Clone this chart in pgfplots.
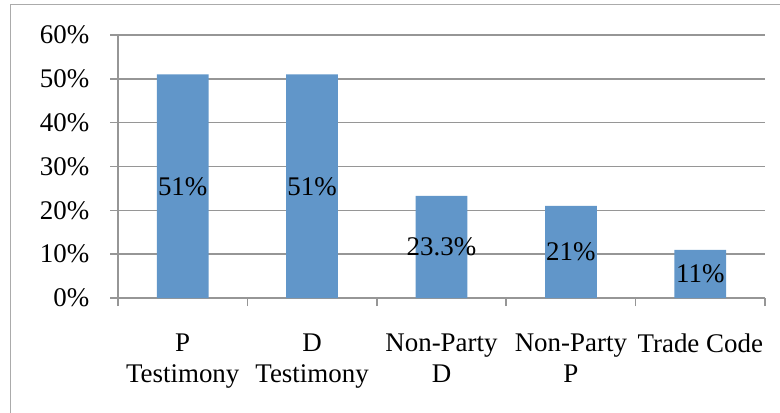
\documentclass[border=0pt]{standalone}
\usepackage{pgfplots}
\pgfplotsset{compat=1.18}
\usepackage{fontspec}
\setmainfont{Liberation Serif}
\definecolor{barblue}{RGB}{97,150,201}
\definecolor{gridgray}{RGB}{150,150,150}
\newcommand{\chartfont}{\fontsize{20.2}{23.25}\selectfont}
\begin{document}
\begin{tikzpicture}
\useasboundingbox (0,0) rectangle (585pt,309pt);
\draw[gridgray!80, line width=1.1pt] (7.9pt,-10pt) -- (7.9pt,305.6pt) -- (600pt,305.6pt);
\begin{axis}[
  at={(88.5pt,85.5pt)}, anchor=south west,
  scale only axis, width=485.25pt, height=197.25pt,
  xmin=-0.5, xmax=4.5, ymin=0, ymax=60,
  axis x line*=bottom, axis y line*=left,
  axis line style={gridgray, line width=1.1pt},
  ytick={0,10,20,30,40,50,60},
  yticklabels={0\%,10\%,20\%,30\%,40\%,50\%,60\%},
  ymajorgrids, grid style={gridgray, line width=1.1pt},
  tick style={gridgray, line width=1.1pt},
  tick align=outside, major tick length=6pt,
  xtick={-0.5,0.5,1.5,2.5,3.5,4.5},
  x tick label as interval,
  xticklabels={P\\Testimony, D\\Testimony, Non-Party\\D, Non-Party\\P, Trade Code},
  ticklabel style={font=\chartfont, text=black},
  xticklabel style={align=center, anchor=north, yshift=-17pt},
  yticklabel style={anchor=east, xshift=-12pt},
  clip=false,
]
\addplot[ybar, fill=barblue, draw=none, bar width=0.4] coordinates {(0,51) (1,51) (2,23.3) (3,21) (4,11)};
\addplot[draw=none, mark=none, nodes near coords, point meta=explicit symbolic,
  every node near coord/.style={anchor=center, font=\chartfont, text=black}]
  coordinates {(0,25.5)[51\%] (1,25.5)[51\%] (2,11.65)[23.3\%] (3,10.5)[21\%] (4,5.5)[11\%]};
\end{axis}
\end{tikzpicture}
\end{document}
